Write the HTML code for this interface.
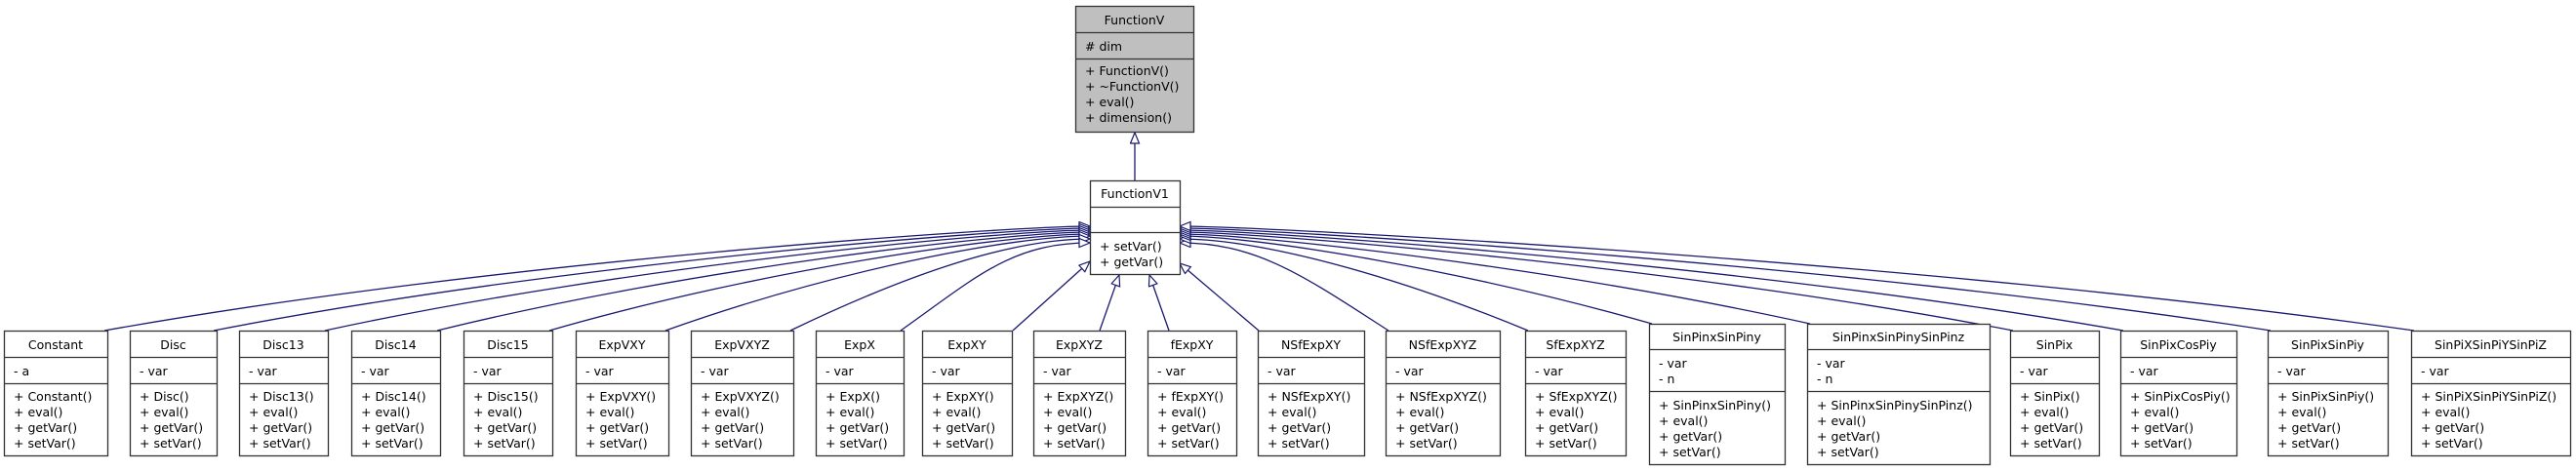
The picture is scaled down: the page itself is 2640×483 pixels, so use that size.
<!DOCTYPE html>
<html><head><meta charset="utf-8"><style>
html,body{margin:0;padding:0;background:#fff;}
svg{display:block;}
text{font-family:"DejaVu Sans","Liberation Sans",sans-serif;font-size:12.5px;fill:#000;}
</style></head><body>
<svg xmlns="http://www.w3.org/2000/svg" width="2640" height="483" viewBox="0 0 2640 483" id="s">
<defs>
<marker id="a" markerUnits="userSpaceOnUse" markerWidth="14" markerHeight="12" refX="12" refY="5" orient="auto">
<path d="M1,0.5 L12,5 L1,9.5 z" fill="#fff" stroke="#191970" stroke-width="1.2"/>
</marker>
</defs>
<g id="edges" fill="none" stroke="#191970" stroke-width="1.3"></g>
<g id="boxes"></g>
</svg>
<script>
var NS="http://www.w3.org/2000/svg";
var E=document.getElementById('edges'),B=document.getElementById('boxes');
function el(t,a,p,txt){var e=document.createElementNS(NS,t);for(var k in a)e.setAttribute(k,a[k]);if(txt!==undefined)e.textContent=txt;p.appendChild(e);return e;}
function box(x1,x2,top,s1,s2,bot,title,tb,attrs,ab,meths,mb,fill){
 el('rect',{x:x1+0.5,y:top+0.5,width:x2-x1,height:bot-top,fill:fill||'#fff',stroke:'#333','stroke-width':1.3},B);
 el('line',{x1:x1,x2:x2,y1:s1+0.5,y2:s1+0.5,stroke:'#333','stroke-width':1.3},B);
 el('line',{x1:x1,x2:x2,y1:s2+0.5,y2:s2+0.5,stroke:'#333','stroke-width':1.3},B);
 el('text',{x:(x1+x2)/2,y:tb,'text-anchor':'middle'},B,title);
 attrs.forEach(function(t,i){el('text',{x:x1+10,y:ab+16*i},B,t);});
 meths.forEach(function(t,i){el('text',{x:x1+10,y:mb+16*i},B,t);});
}
box(1102,1223,6,33,60,135,'FunctionV',25,['# dim'],52,['+ FunctionV()','+ ~FunctionV()','+ eval()','+ dimension()'],77,'#bfbfbf');
box(1117,1209,185,212,238,281,'FunctionV1',203,[],0,['+ setVar()','+ getVar()'],257);
el('path',{d:'M1163,185 L1163,136','marker-end':'url(#a)'},E);
var kids=[
['Constant',4,110,['- a'],'L',232],
['Disc',133,222,['- var'],'L',234],
['Disc13',245,336,['- var'],'L',236],
['Disc14',360,451,['- var'],'L',238],
['Disc15',475,566,['- var'],'L',240],
['ExpVXY',590,685,['- var'],'L',242],
['ExpVXYZ',708,813,['- var'],'L',245],
['ExpX',836,926,['- var'],'L',249],
['ExpXY',945,1037,['- var'],'SL',268],
['ExpXYZ',1059,1153,['- var'],'B1',0],
['fExpXY',1176,1267,['- var'],'B2',0],
['NSfExpXY',1289,1398,['- var'],'SR',270],
['NSfExpXYZ',1420,1537,['- var'],'R',249],
['SfExpXYZ',1563,1666,['- var'],'R',245],
['SinPinxSinPiny',1690,1829,['- var','- n'],'R',242],
['SinPinxSinPinySinPinz',1852,2039,['- var','- n'],'R',240],
['SinPix',2060,2151,['- var'],'R',238],
['SinPixCosPiy',2173,2292,['- var'],'R',236],
['SinPixSinPiy',2324,2447,['- var'],'R',234],
['SinPiXSinPiYSinPiZ',2471,2634,['- var'],'R',232]
];
kids.forEach(function(k){
 var n=k[0],x1=k[1],x2=k[2],at=k[3],side=k[4],ty=k[5],top;
 if(at.length==2){top=332;box(x1,x2,332,358,401,476,n,350,at,377,['+ '+n+'()','+ eval()','+ getVar()','+ setVar()'],420);}
 else{top=339;box(x1,x2,339,366,393,467,n,358,at,385,['+ '+n+'()','+ eval()','+ getVar()','+ setVar()'],411);}
 var d;
 if(side=='L'){var sx=x2-3,tx=1117;d='M'+sx+','+top+' C'+(sx+(tx-sx)*0.4)+','+(ty+35)+' '+(tx-80)+','+ty+' '+tx+','+ty;}
 else if(side=='R'){var sx=x1+3,tx=1209;d='M'+sx+','+top+' C'+(sx+(tx-sx)*0.4)+','+(ty+35)+' '+(tx+80)+','+ty+' '+tx+','+ty;}
 else if(side=='SL'){d='M1038,'+top+' L1117,'+ty;}
 else if(side=='SR'){d='M1290,'+top+' L1209,'+ty;}
 else if(side=='B1'){d='M1127,'+top+' L1147,282';}
 else {d='M1198,'+top+' L1178,282';}
 el('path',{d:d,'marker-end':'url(#a)'},E);
});
</script>
</body></html>
